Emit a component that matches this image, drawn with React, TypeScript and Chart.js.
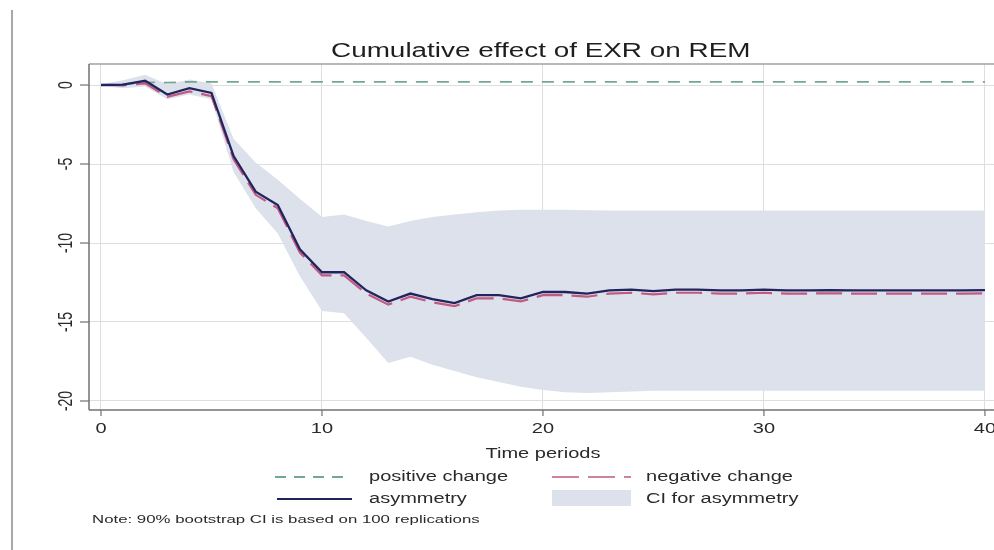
import { useEffect, useRef } from "react";
import { Chart, registerables } from "chart.js";

Chart.register(...registerables);

// ---- data ----
const periods = [0, 1, 2, 3, 4, 5, 6, 7, 8, 9, 10, 11, 12, 13, 14, 15, 16, 17, 18, 19, 20, 21, 22, 23, 24, 25, 26, 27, 28, 29, 30, 31, 32, 33, 34, 35, 36, 37, 38, 39, 40];

const asymmetry = [0, 0.03, 0.27, -0.6, -0.2, -0.5, -4.5, -6.75, -7.6, -10.4, -11.85, -11.85, -13.0, -13.7, -13.2, -13.55, -13.8, -13.3, -13.3, -13.5, -13.1, -13.1, -13.2, -13.0, -12.95, -13.05, -12.95, -12.95, -13.0, -13.0, -12.95, -13.0, -13.0, -12.98, -13.0, -13.0, -13.0, -13.0, -13.0, -13.0, -12.98];

const negativeChange = [0, -0.02, 0.1, -0.75, -0.4, -0.7, -4.7, -6.95, -7.8, -10.6, -12.05, -12.05, -13.2, -13.9, -13.4, -13.75, -14.0, -13.5, -13.5, -13.7, -13.3, -13.3, -13.4, -13.2, -13.15, -13.25, -13.15, -13.15, -13.2, -13.2, -13.15, -13.2, -13.2, -13.18, -13.2, -13.2, -13.2, -13.2, -13.2, -13.2, -13.18];

const positiveChange = [0, 0.05, 0.17, 0.15, 0.2, 0.2, 0.2, 0.2, 0.2, 0.2, 0.2, 0.2, 0.2, 0.2, 0.2, 0.2, 0.2, 0.2, 0.2, 0.2, 0.2, 0.2, 0.2, 0.2, 0.2, 0.2, 0.2, 0.2, 0.2, 0.2, 0.2, 0.2, 0.2, 0.2, 0.2, 0.2, 0.2, 0.2, 0.2, 0.2, 0.2];

const ciUpper = [0.05, 0.3, 0.65, 0.05, 0.35, 0.1, -3.4, -4.9, -6.0, -7.2, -8.35, -8.2, -8.6, -8.95, -8.6, -8.35, -8.2, -8.05, -7.95, -7.9, -7.9, -7.9, -7.92, -7.95, -7.95, -7.95, -7.95, -7.95, -7.95, -7.95, -7.95, -7.95, -7.95, -7.95, -7.95, -7.95, -7.95, -7.95, -7.95, -7.95, -7.95];

const ciLower = [-0.05, -0.2, -0.1, -0.9, -0.6, -0.9, -5.5, -7.8, -9.4, -12.1, -14.3, -14.45, -16.0, -17.6, -17.2, -17.7, -18.1, -18.5, -18.8, -19.1, -19.3, -19.45, -19.5, -19.45, -19.4, -19.35, -19.35, -19.35, -19.35, -19.35, -19.35, -19.35, -19.35, -19.35, -19.35, -19.35, -19.35, -19.35, -19.35, -19.35, -19.35];

const xTicks = [0, 10, 20, 30, 40];
const xTickLabels = ["0", "10", "20", "30", "40"];
const yTicks = [0, -5, -10, -15, -20];
const yTickLabels = ["0", "-5", "-10", "-15", "-20"];

const titleText = "Cumulative effect of EXR on REM";
const xTitle = "Time periods";
const noteText = "Note: 90% bootstrap CI is based on 100 replications";
const legendLabels = ["positive change", "negative change", "asymmetry", "CI for asymmetry"];

// ---- styles ----
const FONT = '"Liberation Sans", Arial, Helvetica, sans-serif';
const SX = 1.43;
const C_POS = "#72a892";
const C_NEG = "#c05a80";
const C_ASY = "#23235e";
const C_CI = "#dce1ec";
const C_GRID = "#dedede";
const C_TEXT = "#2a2a2a";

function txt(ctx: CanvasRenderingContext2D, s: string, x: number, y: number, size: number, align: CanvasTextAlign, color = C_TEXT) {
  ctx.save();
  ctx.font = `${size}px ${FONT}`;
  ctx.fillStyle = color;
  ctx.textAlign = align;
  ctx.textBaseline = "alphabetic";
  ctx.translate(x, y);
  ctx.scale(SX, 1);
  ctx.fillText(s, 0, 0);
  ctx.restore();
}

function line(ctx: CanvasRenderingContext2D, x1: number, y1: number, x2: number, y2: number, color: string, w: number, dash: number[] = []) {
  ctx.save();
  ctx.strokeStyle = color;
  ctx.lineWidth = w;
  ctx.setLineDash(dash);
  ctx.beginPath();
  ctx.moveTo(x1, y1);
  ctx.lineTo(x2, y2);
  ctx.stroke();
  ctx.restore();
}

const decorations = {
  id: "decorations",
  afterDraw(chart: any) {
    const ctx: CanvasRenderingContext2D = chart.ctx;
    const a = chart.chartArea;
    const xs = chart.scales.x;
    const ys = chart.scales.y;

    // outer left rule
    line(ctx, 12, 10, 12, 550, "#a8a8a8", 2);

    // frame / axes
    line(ctx, a.left, a.top, a.right, a.top, "#a0a0a0", 1.5);
    line(ctx, a.left, a.top, a.left, a.bottom, "#707070", 1.5);
    line(ctx, a.left, a.bottom, a.right, a.bottom, "#707070", 1.5);

    // y ticks + rotated labels
    yTicks.forEach((v, i) => {
      const y = ys.getPixelForValue(v);
      line(ctx, a.left - 9, y, a.left, y, "#707070", 1.2);
      ctx.save();
      ctx.font = `14px ${FONT}`;
      ctx.fillStyle = C_TEXT;
      ctx.textAlign = "center";
      ctx.textBaseline = "alphabetic";
      ctx.translate(a.left - 17, y);
      ctx.scale(SX, 1);
      ctx.rotate(-Math.PI / 2);
      ctx.fillText(yTickLabels[i], 0, 0);
      ctx.restore();
    });

    // x ticks + labels
    xTicks.forEach((v, i) => {
      const x = xs.getPixelForValue(v);
      line(ctx, x, a.bottom, x, a.bottom + 6, "#707070", 1.2);
      txt(ctx, xTickLabels[i], x, a.bottom + 23, 14, "center");
    });

    // axis title
    txt(ctx, xTitle, (xs.getPixelForValue(0) + xs.getPixelForValue(40)) / 2, a.bottom + 48, 14, "center");

    // title
    txt(ctx, titleText, 331, 57, 19.5, "left", "#1e1e1e");

    // legend
    line(ctx, 275, 477, 351, 477, C_POS, 1.8, [11, 8]);
    txt(ctx, legendLabels[0], 369, 481, 14, "left");
    line(ctx, 552, 477, 631, 477, C_NEG, 1.6, [27, 9]);
    txt(ctx, legendLabels[1], 646, 481, 14, "left");
    line(ctx, 277, 499, 352, 499, C_ASY, 2);
    txt(ctx, legendLabels[2], 369, 503, 14, "left");
    ctx.save();
    ctx.fillStyle = C_CI;
    ctx.fillRect(552, 490, 79, 16);
    ctx.restore();
    txt(ctx, legendLabels[3], 646, 503, 14, "left");

    // note
    txt(ctx, noteText, 92, 523, 11.75, "left");
  },
};

export default function App() {
  const ref = useRef<HTMLCanvasElement | null>(null);

  useEffect(() => {
    const canvas = ref.current;
    if (!canvas) return;
    const chart = new Chart(canvas, {
      type: "line",
      data: {
        labels: periods,
        datasets: [
          {
            label: "CI upper",
            data: periods.map((p, i) => ({ x: p, y: ciUpper[i] })),
            borderWidth: 0,
            borderColor: "rgba(0,0,0,0)",
            pointRadius: 0,
            fill: "+1",
            backgroundColor: C_CI,
            order: 4,
          },
          {
            label: "CI lower",
            data: periods.map((p, i) => ({ x: p, y: ciLower[i] })),
            borderWidth: 0,
            borderColor: "rgba(0,0,0,0)",
            pointRadius: 0,
            fill: false,
            order: 5,
          },
          {
            label: "positive change",
            data: periods.map((p, i) => ({ x: p, y: positiveChange[i] })),
            borderColor: C_POS,
            borderWidth: 1.8,
            borderDash: [12, 9],
            pointRadius: 0,
            fill: false,
            order: 2,
          },
          {
            label: "negative change",
            data: periods.map((p, i) => ({ x: p, y: negativeChange[i] })),
            borderColor: C_NEG,
            borderWidth: 2.2,
            borderDash: [26, 9],
            pointRadius: 0,
            fill: false,
            order: 1,
          },
          {
            label: "asymmetry",
            data: periods.map((p, i) => ({ x: p, y: asymmetry[i] })),
            borderColor: C_ASY,
            borderWidth: 2.3,
            pointRadius: 0,
            fill: false,
            order: 0,
          },
        ],
      },
      options: {
        responsive: false,
        devicePixelRatio: 1,
        animation: false,
        events: [],
        layout: { padding: { left: 89, top: 64, right: 0, bottom: 140 } },
        plugins: {
          legend: { display: false },
          title: { display: false },
          tooltip: { enabled: false },
        },
        elements: { line: { tension: 0 } },
        scales: {
          x: {
            type: "linear",
            min: -0.543,
            max: 40.41,
            afterBuildTicks: (s: any) => {
              s.ticks = xTicks.map((v) => ({ value: v }));
            },
            afterFit: (s: any) => {
              s.height = 0;
            },
            ticks: { display: false },
            grid: { color: C_GRID, lineWidth: 1, drawTicks: false },
            border: { display: false },
          },
          y: {
            type: "linear",
            min: -20.57,
            max: 1.33,
            afterBuildTicks: (s: any) => {
              s.ticks = yTicks.map((v) => ({ value: v }));
            },
            afterFit: (s: any) => {
              s.width = 0;
            },
            ticks: { display: false },
            grid: { color: C_GRID, lineWidth: 1, drawTicks: false },
            border: { display: false },
          },
        },
      },
      plugins: [decorations],
    });
    return () => chart.destroy();
  }, []);

  return (
    <div style={{ position: "fixed", left: 0, top: 0, width: 994, height: 550, background: "#ffffff" }}>
      <canvas ref={ref} width={994} height={550} style={{ display: "block", width: 994, height: 550 }} />
    </div>
  );
}
